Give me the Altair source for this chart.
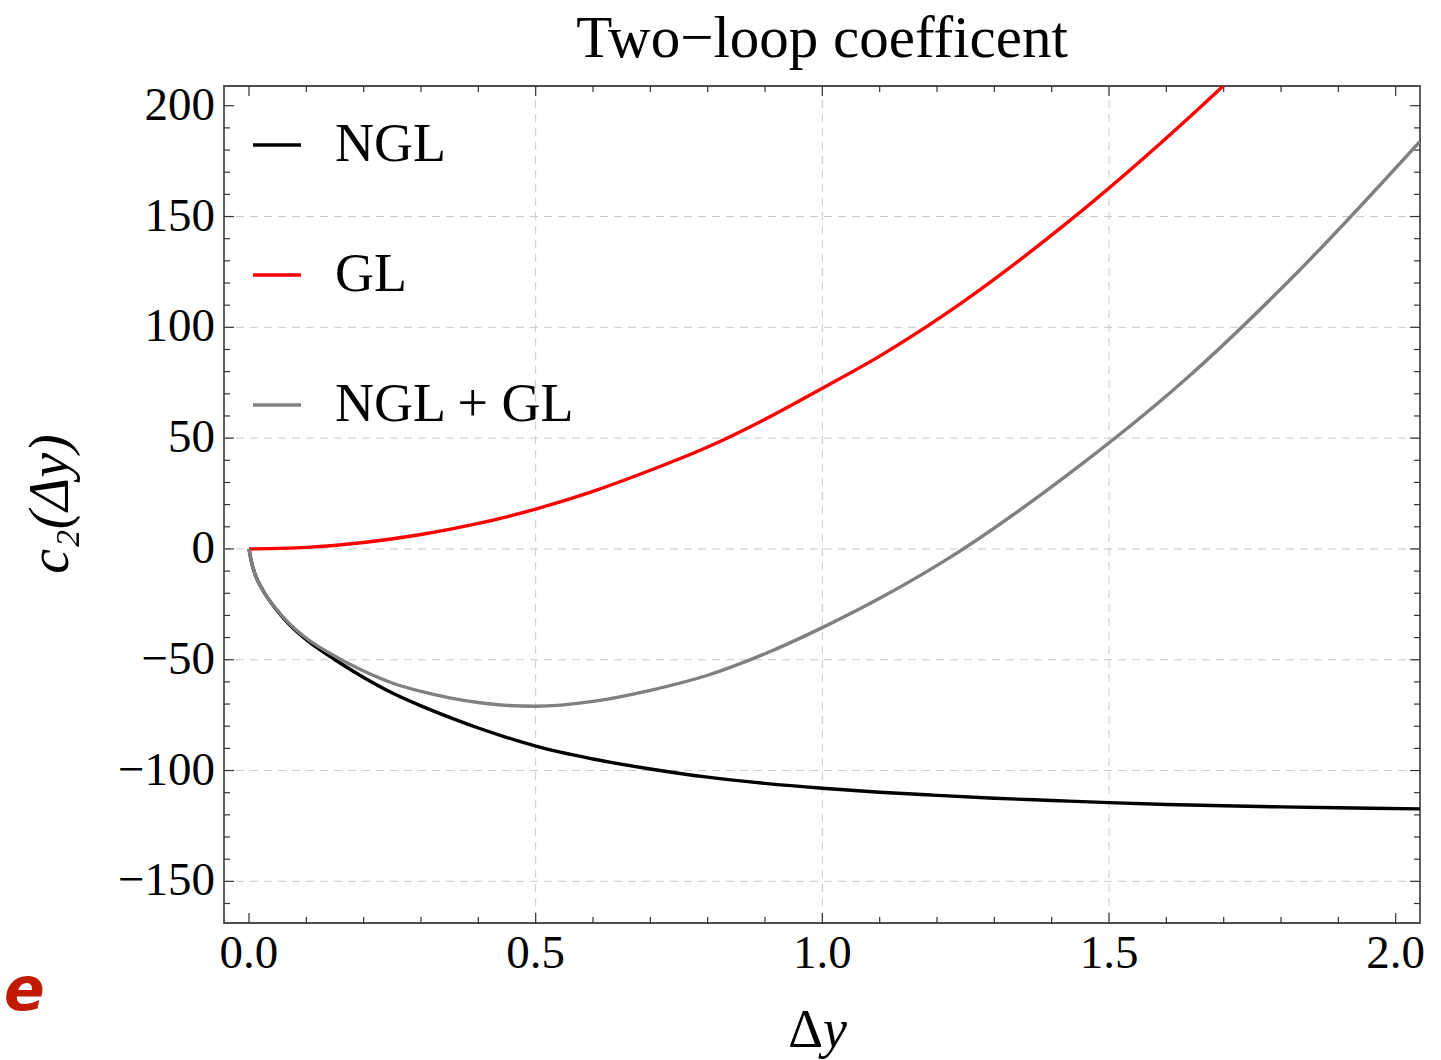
import altair as alt
import pandas as pd

# ---- data ----
series_names = ["NGL", "GL", "NGL + GL"]
series_colors = ["#000000", "#ff0000", "#808080"]

x_ngl = [0.0, 0.004, 0.01, 0.025, 0.045, 0.07, 0.1, 0.15, 0.2, 0.25, 0.3, 0.35, 0.4, 0.45, 0.5,
         0.6, 0.7, 0.8, 0.9, 1.0, 1.1, 1.2, 1.3, 1.4, 1.5, 1.6, 1.7, 1.8, 1.9, 2.042]
y_ngl = [0.0, -5.5, -11.0, -19.0, -26.5, -34.0, -41.0, -50.0, -58.0, -65.0, -70.8, -76.0, -80.8, -85.1, -89.0,
         -94.8, -99.3, -103.0, -105.8, -108.0, -109.8, -111.2, -112.5, -113.5, -114.5, -115.3,
         -115.9, -116.4, -116.8, -117.3]

x_gl = [0.0, 0.1, 0.2, 0.3, 0.4, 0.5, 0.6, 0.7, 0.8, 0.9, 1.0, 1.1, 1.208, 1.426, 1.632, 1.827, 2.042]
y_gl = [0.0, 0.7, 2.9, 6.5, 11.5, 18.0, 26.0, 35.5, 46.0, 58.5, 72.5, 87.0, 104.8, 147.0, 192.9, 241.0, 301.0]

x_sum = [0.0, 0.004, 0.01, 0.025, 0.045, 0.07, 0.1, 0.15, 0.2, 0.25, 0.3, 0.35, 0.4, 0.45, 0.5,
         0.6, 0.7, 0.8, 0.9, 1.0, 1.1, 1.208, 1.423, 1.632, 1.827, 2.042]
y_sum = [0.0, -5.5, -11.0, -19.0, -26.3, -33.6, -40.3, -48.4, -55.1, -60.5, -64.3, -67.2, -69.3, -70.6, -71.0,
         -68.8, -63.8, -57.0, -47.3, -35.5, -22.3, -6.2, 32.5, 76.2, 124.4, 183.8]

x_major = [0.0, 0.5, 1.0, 1.5, 2.0]
x_minor = [0.1, 0.2, 0.3, 0.4, 0.6, 0.7, 0.8, 0.9, 1.1, 1.2, 1.3, 1.4, 1.6, 1.7, 1.8, 1.9]
y_major = [-150, -100, -50, 0, 50, 100, 150, 200]
y_minor = [-160, -140, -130, -120, -110, -90, -80, -70, -60, -40, -30, -20, -10,
           10, 20, 30, 40, 60, 70, 80, 90, 110, 120, 130, 140, 160, 170, 180, 190]
x_grid = [0.5, 1.0, 1.5]
y_grid = [-150, -100, -50, 0, 50, 100, 150]

title_text = "Two−loop coefficent"
x_title_parts = ["Δ", "y"]
y_title = "c₂(Δy)"

X_DOMAIN = [-0.0436, 2.0424]
Y_DOMAIN = [-168.8, 208.9]
W, H = 1196, 837
FONT = "Liberation Serif"

xs = alt.Scale(domain=X_DOMAIN, nice=False, zero=False)
ys = alt.Scale(domain=Y_DOMAIN, nice=False, zero=False)

df = pd.concat([
    pd.DataFrame({"dy": x_ngl, "c2": y_ngl, "series": series_names[0]}),
    pd.DataFrame({"dy": x_gl, "c2": y_gl, "series": series_names[1]}),
    pd.DataFrame({"dy": x_sum, "c2": y_sum, "series": series_names[2]}),
], ignore_index=True)

grid_col = "#c9c9c9"
tick_col = "#333333"

lines = alt.Chart(df).mark_line(clip=True, strokeWidth=3.4, interpolate="monotone").encode(
    x=alt.X("dy:Q", scale=xs, axis=None),
    y=alt.Y("c2:Q", scale=ys, axis=None),
    color=alt.Color("series:N", scale=alt.Scale(domain=series_names, range=series_colors),
                    legend=alt.Legend(
                        title=None, orient="none", legendX=26, legendY=32,
                        symbolType="stroke", symbolSize=2304, symbolStrokeWidth=3.5,
                        labelFont=FONT, labelFontSize=54, labelColor="black",
                        labelOffset=31, rowPadding=76, padding=0, labelLimit=400)),
)

gx = alt.Chart(pd.DataFrame({"g": x_grid})).mark_rule(
    color=grid_col, strokeWidth=1, strokeDash=[8, 6]
).encode(x=alt.X("g:Q", scale=xs, axis=None))

gy = alt.Chart(pd.DataFrame({"g": y_grid})).mark_rule(
    color=grid_col, strokeWidth=1, strokeDash=[8, 6]
).encode(y=alt.Y("g:Q", scale=ys, axis=None))


def xticks(vals, length):
    d = pd.DataFrame({"t": vals})
    bottom = alt.Chart(d).mark_rule(color=tick_col, strokeWidth=1.2).encode(
        x=alt.X("t:Q", scale=xs, axis=None), y=alt.value(H), y2=alt.value(H - length))
    top = alt.Chart(d).mark_rule(color=tick_col, strokeWidth=1.2).encode(
        x=alt.X("t:Q", scale=xs, axis=None), y=alt.value(0), y2=alt.value(length))
    return [bottom, top]


def yticks(vals, length):
    d = pd.DataFrame({"t": vals})
    left = alt.Chart(d).mark_rule(color=tick_col, strokeWidth=1.2).encode(
        y=alt.Y("t:Q", scale=ys, axis=None), x=alt.value(0), x2=alt.value(length))
    right = alt.Chart(d).mark_rule(color=tick_col, strokeWidth=1.2).encode(
        y=alt.Y("t:Q", scale=ys, axis=None), x=alt.value(W), x2=alt.value(W - length))
    return [left, right]


# tick labels, placed through the scales
xlab = alt.Chart(pd.DataFrame({"v": x_major})).mark_text(
    font=FONT, fontSize=47, color="black", align="center", baseline="top"
).encode(x=alt.X("v:Q", scale=xs, axis=None), y=alt.value(H + 8),
         text=alt.Text("v:Q", format=".1f"))

ylab = alt.Chart(pd.DataFrame({"v": y_major})).mark_text(
    font=FONT, fontSize=47, color="black", align="right", baseline="middle"
).encode(y=alt.Y("v:Q", scale=ys, axis=None), x=alt.value(-9),
         text=alt.Text("v:Q", format="d"))

titles = alt.Chart(pd.DataFrame({"t": [title_text]})).mark_text(
    font=FONT, fontSize=59, color="black", align="center", baseline="alphabetic"
).encode(text="t:N", x=alt.value(W / 2), y=alt.value(-29))

xtit_a = alt.Chart(pd.DataFrame({"t": [x_title_parts[0]]})).mark_text(
    font=FONT, fontSize=54, color="black", align="right", baseline="alphabetic"
).encode(text="t:N", x=alt.value(W / 2 + 1), y=alt.value(H + 124))

xtit_b = alt.Chart(pd.DataFrame({"t": [x_title_parts[1]]})).mark_text(
    font=FONT, fontSize=54, fontStyle="italic", color="black", align="left", baseline="alphabetic"
).encode(text="t:N", x=alt.value(W / 2 + 1), y=alt.value(H + 124))

ytit = alt.Chart(pd.DataFrame({"t": [y_title]})).mark_text(
    font=FONT, fontSize=56, fontStyle="italic", color="black", align="center", baseline="middle",
    angle=270
).encode(text="t:N", x=alt.value(-173), y=alt.value(418))

note = alt.Chart(pd.DataFrame({"t": ["e"]})).mark_text(
    color="#c01a00", fontSize=60, fontWeight="bold", fontStyle="italic",
    font="DejaVu Sans", align="left", baseline="alphabetic"
).encode(text="t:N", x=alt.value(-220), y=alt.value(924))

layers = ([gx, gy] + xticks(x_major, 10) + xticks(x_minor, 6) + yticks(y_major, 10)
          + yticks(y_minor, 6) + [lines, xlab, ylab, titles, xtit_a, xtit_b, ytit, note])

chart = alt.layer(*layers).properties(
    width=W, height=H,
    autosize=alt.AutoSizeParams(type="none"),
    padding={"left": 224, "top": 86, "right": 21, "bottom": 137},
    background="white",
).configure_view(stroke="#4d4d4d", strokeWidth=1.8)

chart.save("out.html", embed_options={"renderer": "svg", "actions": False})
